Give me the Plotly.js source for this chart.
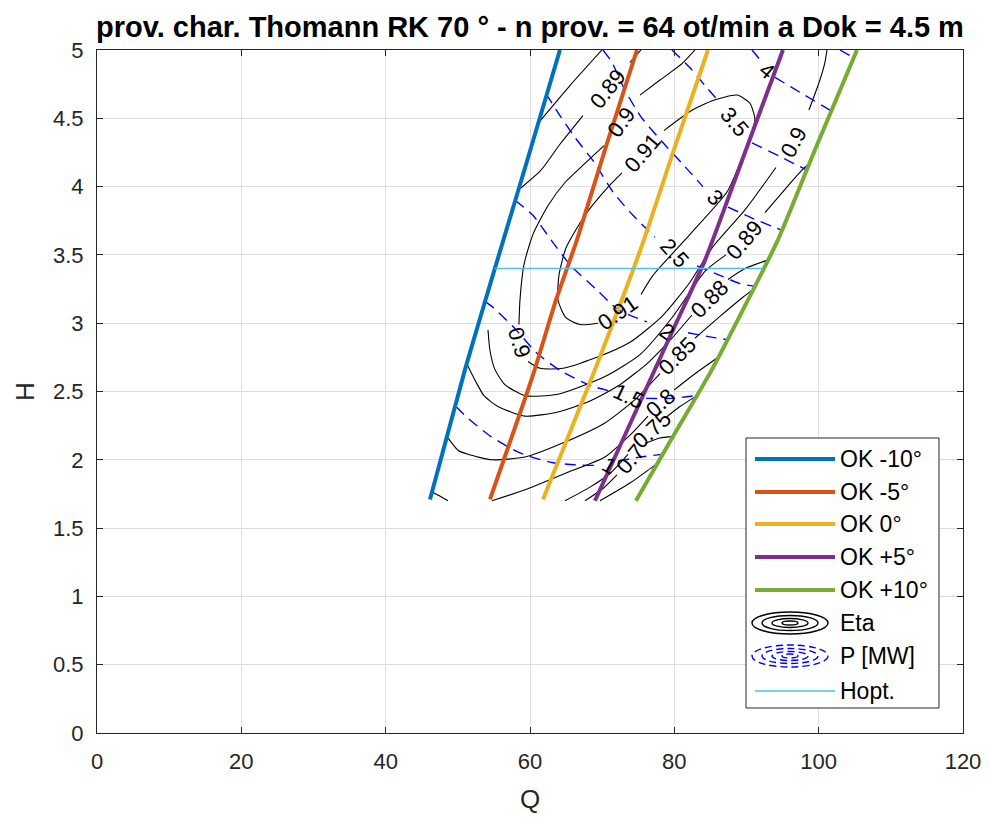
<!DOCTYPE html>
<html>
<head>
<meta charset="utf-8">
<script src="https://cdn.plot.ly/plotly-3.0.1.min.js"></script>
<style>html,body{margin:0;padding:0;background:#fff;}</style>
</head>
<body>
<div id="chart" style="width:989px;height:818px;"></div>
<script>
// ---- Guide-vane opening lines (Q [m3/s], H [m]) ----
const okLabels = ['OK -10°', 'OK -5°', 'OK 0°', 'OK +5°', 'OK +10°'];
const okM10_Q = [46.14, 50.99, 54.73, 59.44, 64.15];
const okM10_H = [1.71, 2.66, 3.33, 4.16, 5.00];
const okM5_Q = [54.45, 60.41, 63.60, 66.51, 70.39, 74.82];
const okM5_H = [1.71, 2.62, 3.17, 3.61, 4.27, 5.00];
const ok0_Q = [61.80, 69.00, 75.52, 79.95, 84.66];
const ok0_H = [1.71, 2.66, 3.57, 4.27, 5.00];
const okP5_Q = [69.00, 79.81, 84.24, 89.93, 95.05];
const okP5_H = [1.70, 2.95, 3.46, 4.27, 5.00];
const okP10_Q = [74.68, 79.81, 85.21, 94.36, 99.49, 105.31];
const okP10_H = [1.70, 2.17, 2.66, 3.61, 4.27, 5.00];

// ---- Optimum head ----
const hopt_Q = [55.1, 92.3];
const hopt_H = [3.40, 3.40];

// ---- Efficiency isolines (null = break at the inline label) ----
const eta091_Q = [69.42, 66.92, 64.98, 63.88, 64.01, 64.98, 67.62, 70.53, 72.74, null, 78.56, 82.17, 85.35, 88.68, 90.48, 91.17, 90.48, 89.09, 87.29, 82.17, 77.04, 75.38];
const eta091_H = [3.00, 2.99, 3.04, 3.17, 3.35, 3.55, 3.79, 3.98, 4.10, null, 4.41, 4.55, 4.63, 4.67, 4.61, 4.49, 4.36, 4.17, 3.96, 3.65, 3.35, 3.21];
const eta090_Q = [82.86, 81.06, 78.01, 75.24, null, 70.25, 67.62, 64.85, 62.49, 60.41, 59.17, 58.61, 58.47, null, 59.72, 61.38, 64.57, 69.28, 73.85, 78.29, 82.17, 85.35, 89.79, 94.08, null, 98.65, 100.04, 100.87, 101.15];
const eta090_H = [5.00, 4.90, 4.78, 4.67, null, 4.30, 4.17, 4.03, 3.86, 3.65, 3.43, 3.17, 2.99, null, 2.72, 2.67, 2.67, 2.75, 2.86, 3.05, 3.30, 3.56, 3.83, 4.14, null, 4.56, 4.76, 4.91, 5.00];
const eta089_Q = [58.75, 61.52, 64.15, 67.34, null, 73.85, 75.38, null, 54.18, 54.45, 55.15, 56.53, 59.30, 63.88, 70.39, 75.24, 79.67, 84.24, 87.15, null, 92.56, 95.33, 97.68, 98.52];
const eta089_H = [3.99, 4.12, 4.31, 4.52, null, 4.91, 5.00, null, 2.95, 2.80, 2.66, 2.55, 2.47, 2.48, 2.61, 2.77, 3.04, 3.38, 3.50, null, 3.81, 3.98, 4.12, 4.16];
const eta088_Q = [61.38, 65.54, 69.97, null, 51.27, 52.51, 53.62, 55.56, 59.30, 63.88, 68.31, 72.47, 76.35, 79.67, 82.44, null, 87.43, 89.79, 92.84];
const eta088_H = [4.48, 4.74, 5.00, null, 2.70, 2.57, 2.47, 2.39, 2.32, 2.35, 2.43, 2.55, 2.71, 2.89, 3.06, null, 3.32, 3.40, 3.46];
const eta085_Q = [48.63, 50.02, 51.41, 54.73, 59.30, 64.85, 70.39, 74.55, 78.01, null, 82.86, 86.32, 89.51, 90.76];
const eta085_H = [2.16, 2.07, 2.04, 2.00, 2.02, 2.13, 2.27, 2.44, 2.63, null, 2.89, 3.05, 3.19, 3.24];
const eta080_Q = [46.56, 47.66, 48.63, null, 54.73, 59.30, 64.85, 70.39, 73.85, 76.35, null, 79.95, 82.86, 86.32];
const eta080_H = [1.76, 1.73, 1.70, null, 1.70, 1.78, 1.90, 2.02, 2.18, 2.32, null, 2.51, 2.63, 2.76];
const eta075_Q = [64.85, 68.31, 71.08, 73.58, null, 78.84, 80.78, 83.14];
const eta075_H = [1.70, 1.80, 1.90, 2.04, null, 2.31, 2.39, 2.47];
const eta070_Q = [67.62, 70.11, 72.05, null, 75.93, 78.01, 79.81];
const eta070_H = [1.70, 1.79, 1.89, null, 2.12, 2.16, 2.17];
const eta065_Q = [69.70, 73.85, 77.04, 77.87];
const eta065_H = [1.70, 1.83, 1.95, 1.98];

// ---- Power isolines P [MW] ----
const p45_Q = [102.95, 104.61];
const p45_H = [5.00, 4.95];
const p40_Q = [90.76, 91.87, null, 93.94, 97.41, 101.56];
const p40_H = [5.00, 4.93, null, 4.80, 4.69, 4.56];
const p35_Q = [79.67, 82.17, 84.24, 86.05, null, 90.76, 94.64, 98.38];
const p35_H = [5.00, 4.87, 4.74, 4.63, null, 4.32, 4.22, 4.12];
const p30_Q = [70.11, 71.36, 73.02, 75.38, 78.29, 81.06, 83.97, null, 87.43, 90.76, 94.91];
const p30_H = [5.00, 4.91, 4.72, 4.51, 4.33, 4.17, 4.00, null, 3.85, 3.77, 3.68];
const p25_Q = [62.21, 64.15, 66.23, 69.00, 71.50, 74.27, 77.32, null, 83.14, 86.32, 89.09, 91.17];
const p25_H = [4.68, 4.52, 4.36, 4.17, 3.96, 3.79, 3.63, null, 3.42, 3.35, 3.29, 3.27];
const p20_Q = [57.92, 60.41, 62.91, 65.68, 69.14, 72.19, 76.21, null, 81.89, 84.94, 87.29];
const p20_H = [3.90, 3.79, 3.61, 3.42, 3.25, 3.10, 3.01, null, 2.93, 2.90, 2.88];
const p15_Q = [53.76, 55.01, 57.92, 60.97, 64.29, 68.59, 71.36, null, 76.07, 79.67, 83.00];
const p15_H = [3.16, 3.11, 2.96, 2.78, 2.65, 2.54, 2.50, null, 2.45, 2.45, 2.47];
const p10_Q = [49.74, 51.27, 54.59, 58.61, 63.04, 67.20, 69.70, null, 72.19, 75.24, 78.29];
const p10_H = [2.39, 2.31, 2.17, 2.05, 1.98, 1.96, 1.96, null, 1.99, 2.02, 2.04];

// ---- Inline isoline labels ----
const etaLabelText = ['0.89', '0.9', '0.91', '0.9', '0.91', '0.9', '0.89', '0.88', '0.85', '0.8', '0.75', '0.7'];
const etaLabelQ = [70.80, 72.61, 75.65, 58.61, 72.19, 96.58, 89.79, 84.94, 80.50, 78.15, 76.90, 73.99];
const etaLabelH = [4.72, 4.47, 4.25, 2.855, 3.08, 4.33, 3.61, 3.18, 2.76, 2.42, 2.225, 2.01];
const pLabelText = ['4', '3.5', '3', '2.5', '2', '1.5', '1'];
const pLabelQ = [92.84, 88.40, 85.63, 80.09, 78.98, 73.71, 70.94];
const pLabelH = [4.85, 4.47, 3.92, 3.51, 2.94, 2.46, 1.955];

// ---- styling ----
const FONT = 'Liberation Sans, Arial, Helvetica, sans-serif';
const AX = '#262626';
const okColors = ['#0072BD', '#D95319', '#EDB120', '#7E2F8E', '#77AC30'];
const hoptColor = '#4DBEEE';
const etaLabelAngle = [-52, -55, -50, 72, -35, -62, -50, -45, -45, -42, -43, -50];
const pLabelAngle = [40, 50, 45, 48, 35, 25, 30];
const LABEL_SIZE = 22;

const traces = [];
const etaSets = [
  [eta065_Q, eta065_H], [eta070_Q, eta070_H], [eta075_Q, eta075_H], [eta080_Q, eta080_H],
  [eta085_Q, eta085_H], [eta088_Q, eta088_H], [eta089_Q, eta089_H], [eta090_Q, eta090_H],
  [eta091_Q, eta091_H]
];
etaSets.forEach(([q, h]) => traces.push({
  x: q, y: h, type: 'scatter', mode: 'lines', connectgaps: false,
  line: {color: '#000000', width: 1.1, shape: 'spline', smoothing: 0.6},
  hoverinfo: 'skip', showlegend: false
}));
const pSets = [
  [p10_Q, p10_H], [p15_Q, p15_H], [p20_Q, p20_H], [p25_Q, p25_H],
  [p30_Q, p30_H], [p35_Q, p35_H], [p40_Q, p40_H], [p45_Q, p45_H]
];
pSets.forEach(([q, h]) => traces.push({
  x: q, y: h, type: 'scatter', mode: 'lines', connectgaps: false,
  line: {color: '#0000FF', width: 1.4, dash: '11px,7px', shape: 'spline', smoothing: 0.6},
  hoverinfo: 'skip', showlegend: false
}));
const okSets = [[okM10_Q, okM10_H], [okM5_Q, okM5_H], [ok0_Q, ok0_H], [okP5_Q, okP5_H], [okP10_Q, okP10_H]];
okSets.forEach(([q, h], i) => traces.push({
  x: q, y: h, type: 'scatter', mode: 'lines', name: okLabels[i],
  line: {color: okColors[i], width: 4, shape: 'spline', smoothing: 0.5},
  hoverinfo: 'skip', showlegend: false
}));
traces.push({
  x: hopt_Q, y: hopt_H, type: 'scatter', mode: 'lines', name: 'Hopt.',
  line: {color: hoptColor, width: 1.6}, hoverinfo: 'skip', showlegend: false
});

// inline labels
const annotations = [];
etaLabelText.forEach((t, i) => annotations.push({
  x: etaLabelQ[i], y: etaLabelH[i], xref: 'x', yref: 'y', text: t, showarrow: false,
  textangle: etaLabelAngle[i], font: {family: FONT, size: LABEL_SIZE, color: '#000'}
}));
pLabelText.forEach((t, i) => annotations.push({
  x: pLabelQ[i], y: pLabelH[i], xref: 'x', yref: 'y', text: t, showarrow: false,
  textangle: pLabelAngle[i], font: {family: FONT, size: LABEL_SIZE, color: '#000'}
}));

// ---- hand-built legend box (pixel layout converted to paper units) ----
const M = {l: 97, r: 26, t: 50, b: 85};
const PW = 989 - M.l - M.r, PH = 818 - M.t - M.b;
const xp = px => (px - M.l) / PW;
const yp = py => (M.t + PH - py) / PH;
const shapes = [];
shapes.push({type: 'rect', xref: 'paper', yref: 'paper', x0: xp(746), x1: xp(939), y0: yp(708), y1: yp(438),
  line: {color: AX, width: 1}, fillcolor: '#ffffff', layer: 'above'});
const rowY = [459, 492, 524, 557, 590, 623, 656, 691];
okColors.forEach((c, i) => shapes.push({type: 'line', xref: 'paper', yref: 'paper',
  x0: xp(755), x1: xp(835), y0: yp(rowY[i]), y1: yp(rowY[i]), line: {color: c, width: 4}, layer: 'above'}));
// concentric ellipses for the isoline entries
const ringW = [76, 56, 36, 16], ringH = [22, 15, 9, 4];
ringW.forEach((w, k) => {
  shapes.push({type: 'circle', xref: 'paper', yref: 'paper',
    x0: xp(790 - w / 2), x1: xp(790 + w / 2), y0: yp(rowY[5] + ringH[k] / 2), y1: yp(rowY[5] - ringH[k] / 2),
    line: {color: '#000', width: 1.4}, layer: 'above'});
  shapes.push({type: 'circle', xref: 'paper', yref: 'paper',
    x0: xp(790 - w / 2), x1: xp(790 + w / 2), y0: yp(rowY[6] + ringH[k] / 2), y1: yp(rowY[6] - ringH[k] / 2),
    line: {color: '#0000FF', width: 1.4, dash: '7px,4px'}, layer: 'above'});
});
shapes.push({type: 'line', xref: 'paper', yref: 'paper', x0: xp(755), x1: xp(835), y0: yp(rowY[7]), y1: yp(rowY[7]),
  line: {color: hoptColor, width: 1.6}, layer: 'above'});
const legendText = okLabels.concat(['Eta', 'P [MW]', 'Hopt.']);
legendText.forEach((t, i) => annotations.push({
  x: xp(838), y: yp(rowY[i]), xref: 'paper', yref: 'paper', xanchor: 'left', yanchor: 'middle',
  text: t, showarrow: false, font: {family: FONT, size: 23, color: '#000'}
}));

const axisCommon = {
  showline: true, linecolor: AX, linewidth: 1, mirror: 'ticks',
  ticks: 'inside', ticklen: 6, tickcolor: AX, tickwidth: 1,
  showgrid: true, gridcolor: '#dfdfdf', gridwidth: 1, zeroline: false,
  tickfont: {family: FONT, size: 22, color: AX}
};
const layout = {
  width: 989, height: 818, margin: M,
  paper_bgcolor: '#ffffff', plot_bgcolor: '#ffffff',
  title: {text: '<b>prov. char. Thomann RK 70 ° - n prov. = 64 ot/min a Dok = 4.5 m</b>',
    font: {family: FONT, size: 29, color: '#000'}, xref: 'paper', x: 0.5, xanchor: 'center',
    yref: 'container', y: 1 - 27 / 818, yanchor: 'middle'},
  xaxis: Object.assign({}, axisCommon, {range: [0, 120], tickvals: [0, 20, 40, 60, 80, 100, 120],
    ticklabelstandoff: 9,
    title: {text: 'Q', font: {family: FONT, size: 26, color: AX}, standoff: 16}}),
  yaxis: Object.assign({}, axisCommon, {range: [0, 5], dtick: 0.5,
    ticklabelstandoff: 8,
    title: {text: 'H', font: {family: FONT, size: 26, color: AX}, standoff: 10}}),
  shapes: shapes,
  annotations: annotations,
  showlegend: false
};
Plotly.newPlot('chart', traces, layout, {staticPlot: true, displayModeBar: false});
</script>
</body>
</html>
